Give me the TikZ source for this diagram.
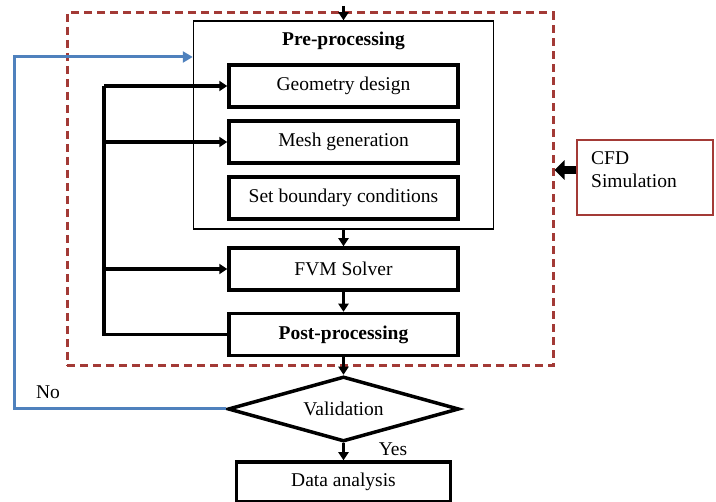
\documentclass[tikz,border=0pt]{standalone}
\usepackage{fontspec}
\setmainfont{Liberation Serif}
\usetikzlibrary{shapes.geometric,arrows.meta}
\definecolor{zonered}{HTML}{A33A36}
\definecolor{loopblue}{HTML}{4F81BD}
\tikzset{
  stepbox/.style={draw, line width=3.5pt, minimum width=229pt, minimum height=42pt, inner sep=0pt},
  outerbox/.style={draw, line width=1.5pt, minimum width=300pt, minimum height=208pt, inner sep=0pt},
  flow/.style={line width=3.5pt, -{Triangle[length=8pt,width=10pt]}},
}
\begin{document}
\begin{tikzpicture}[x=1pt, y=-1pt, font=\fontsize{19.5}{23}\selectfont]
    \useasboundingbox (0,0) rectangle (716,502);

    % Zona simulazione CFD
    \node[draw=zonered, dashed, dash pattern=on 8pt off 5pt, line width=3pt,
          minimum width=486pt, minimum height=353pt, inner sep=0pt] (zone) at (310,189.5) {};

    % Pre-processing
    \node[outerbox] (pre) at (343.5,125) {};
    \node[font=\fontsize{19.5}{23}\selectfont\bfseries] (pretitle) at (343.5,41) {Pre-processing};
    \node[stepbox] (geo) at (343.5,86) {Geometry design};
    \node[stepbox] (mesh) at (343.5,142) {Mesh generation};
    \node[stepbox] (bc) at (343.5,198) {Set boundary conditions};

    % Solver e post
    \node[stepbox] (fvm) at (343.5,269) {FVM Solver};
    \node[stepbox, font=\fontsize{19.5}{23}\selectfont\bfseries] (post) at (343.5,334.5) {Post-processing};
    \node[draw, diamond, aspect=3.55, line width=3.5pt, minimum width=231pt,
          minimum height=65pt, inner sep=0pt] (val) at (343.5,409) {Validation};
    \node[stepbox, minimum width=214pt, minimum height=40pt] (data) at (343.5,482) {Data analysis};

    % Riquadro CFD
    \node[draw=zonered, line width=1.5pt, minimum width=136pt, minimum height=75pt] (cfd) at (645,177.5) {};
    \node[anchor=west, align=left, inner sep=0pt] (cfdtext) at (591,170) {CFD\\Simulation};
    \draw[line width=8pt, -{Triangle[length=10pt,width=19pt]}] (cfd.west |- 0,170) -- (zone.east |- 0,170);

    % Frecce principali
    \coordinate (start) at (343.5,6);
    \draw[flow, line width=3pt] (start) -- (start |- pre.north);
    \draw[flow] (pre.south) -- (fvm.north);
    \draw[flow] (fvm) -- (post);
    \draw[flow] (post.south) -- (val.north);
    \draw[flow] (val.south) -- (data.north);
    \node (yes) at (393,449) {Yes};

    % Ciclo interno
    \coordinate (loop) at (104,334.5);
    \draw[line width=3.5pt] (post.west) -- (post.west -| loop) -- (geo.west -| loop);
    \foreach \s in {geo,mesh,fvm}
        \draw[flow] (\s.west -| loop) -- (\s.west);

    % Ritorno (No)
    \coordinate (noturn) at (14,57);
    \draw[loopblue, line width=3pt, -{Triangle[length=10pt,width=11pt]}] (val.west) -| (noturn) -- (noturn -| pre.west);
    \node (no) at (48,392) {No};
\end{tikzpicture}
\end{document}
